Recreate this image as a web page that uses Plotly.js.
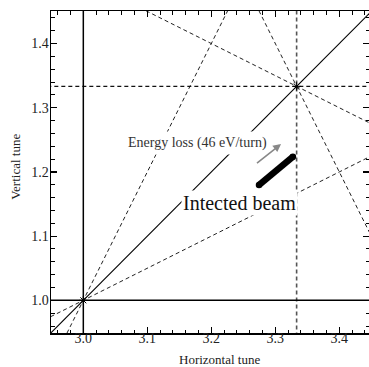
<!DOCTYPE html>
<html>
<head>
<meta charset="utf-8">
<script src="https://cdn.plot.ly/plotly-3.0.1.min.js"></script>
<style>html,body{margin:0;padding:0;background:#fff;}#plot{width:369px;height:367px;}</style>
</head>
<body>
<div id="plot"></div>
<script>
// Resonance lines (endpoints, clipped by axis ranges)
const verticalX = [3.0, 3.0];             const verticalY = [0.9, 1.5];
const horizontalX = [2.9, 3.5];           const horizontalY = [1.0, 1.0];
const diagonalX = [2.9, 3.5];             const diagonalY = [0.9, 1.5];
const thirdVertX = [3.3333, 3.3333];      const thirdVertY = [0.9, 1.5];
const thirdHorzX = [2.9, 3.5];            const thirdHorzY = [1.3333, 1.3333];
const steepUpX = [2.95, 3.25];            const steepUpY = [0.9, 1.5];
const shallowUpX = [2.9, 3.5];            const shallowUpY = [0.95, 1.25];
const shallowDownX = [3.0, 3.5];          const shallowDownY = [1.5, 1.25];
const steepDownX = [3.25, 3.5];           const steepDownY = [1.5, 1.0];
// Crossing points
const crossX = [3.0, 3.3333];             const crossY = [1.0, 1.3333];
// Injected beam
const beamX = [3.2745, 3.3275];           const beamY = [1.1795, 1.2235];
// Energy-loss arrow (tail -> head)
const arrowTailX = 3.269, arrowTailY = 1.212;
const arrowHeadX = 3.309, arrowHeadY = 1.2435;
// Tick labels
const xTicks = [3.0, 3.1, 3.2, 3.3, 3.4];
const yTicks = [1.0, 1.1, 1.2, 1.3, 1.4];

const serif = 'Liberation Serif, Times New Roman, serif';
const dashPat = '4px,3px';

function ln(x, y, color, width, dash) {
  return {x: x, y: y, type: 'scatter', mode: 'lines', hoverinfo: 'skip',
          line: {color: color, width: width, dash: dash || 'solid'}, showlegend: false};
}

const traces = [
  ln(steepUpX, steepUpY, '#222', 1, dashPat),
  ln(shallowUpX, shallowUpY, '#222', 1, dashPat),
  ln(shallowDownX, shallowDownY, '#222', 1, dashPat),
  ln(steepDownX, steepDownY, '#222', 1, dashPat),
  ln(thirdHorzX, thirdHorzY, '#111', 1.1, dashPat),
  ln(thirdVertX, thirdVertY, '#555', 1.6, dashPat),
  ln(diagonalX, diagonalY, '#000', 1.2, 'solid'),
  ln(verticalX, verticalY, '#000', 1.5, 'solid'),
  ln(horizontalX, horizontalY, '#000', 1.5, 'solid'),
  {x: crossX, y: crossY, type: 'scatter', mode: 'markers', hoverinfo: 'skip', showlegend: false,
   marker: {symbol: 'asterisk-open', size: 7, color: '#000', line: {color: '#000', width: 1}}},
  {x: beamX, y: beamY, type: 'scatter', mode: 'lines+markers', hoverinfo: 'skip', showlegend: false,
   line: {color: '#000', width: 6.5}, marker: {symbol: 'circle', size: 6.5, color: '#000'}}
];

const axisCommon = {
  showgrid: false, zeroline: false, showline: true, linecolor: '#000', linewidth: 1.5,
  mirror: 'ticks', ticks: 'inside', ticklen: 6, tickwidth: 1.2, tickcolor: '#000',
  tickfont: {family: serif, size: 14, color: '#222'},
  minor: {dtick: 0.02, ticks: 'inside', ticklen: 3.5, tickwidth: 1, tickcolor: '#000'},
  automargin: false, fixedrange: true
};

const layout = {
  width: 369, height: 367,
  margin: {l: 51, r: 0, t: 11, b: 34, pad: 0},
  paper_bgcolor: '#fff', plot_bgcolor: '#fff',
  xaxis: Object.assign({}, axisCommon, {
    range: [2.9495, 3.4464], tickvals: xTicks, ticktext: xTicks.map(v => v.toFixed(1)),
    ticklabelstandoff: -8
  }),
  yaxis: Object.assign({}, axisCommon, {
    range: [0.9491, 1.4507], tickvals: yTicks, ticktext: yTicks.map(v => v.toFixed(1)),
    ticklabelstandoff: -2
  }),
  annotations: [
    {x: 0.5305, y: -0.0815, xref: 'paper', yref: 'paper', text: 'Horizontal tune', showarrow: false,
     xanchor: 'center', yanchor: 'middle', borderpad: 0, font: {family: serif, size: 13, color: '#222'}},
    {x: -0.110, y: 0.516, xref: 'paper', yref: 'paper', text: 'Vertical tune', showarrow: false,
     textangle: -90, xanchor: 'center', yanchor: 'middle', font: {family: serif, size: 13, color: '#222'}},
    {x: 3.178, y: 1.2446, xref: 'x', yref: 'y', text: 'Energy loss (46 eV/turn)', showarrow: false,
     font: {family: serif, size: 14, color: '#333'}, bgcolor: '#fff', borderpad: 3},
    {x: 3.2433, y: 1.1516, xref: 'x', yref: 'y', text: 'Intected beam', showarrow: false,
     font: {family: serif, size: 20, color: '#111'}, bgcolor: '#fff', borderpad: 1},
    {x: arrowHeadX, y: arrowHeadY, ax: arrowTailX, ay: arrowTailY, xref: 'x', yref: 'y',
     axref: 'x', ayref: 'y', text: '', showarrow: true, arrowhead: 2, arrowsize: 1,
     arrowwidth: 1.6, arrowcolor: '#888'}
  ]
};

Plotly.newPlot('plot', traces, layout, {staticPlot: true, displayModeBar: false});
</script>
</body>
</html>
